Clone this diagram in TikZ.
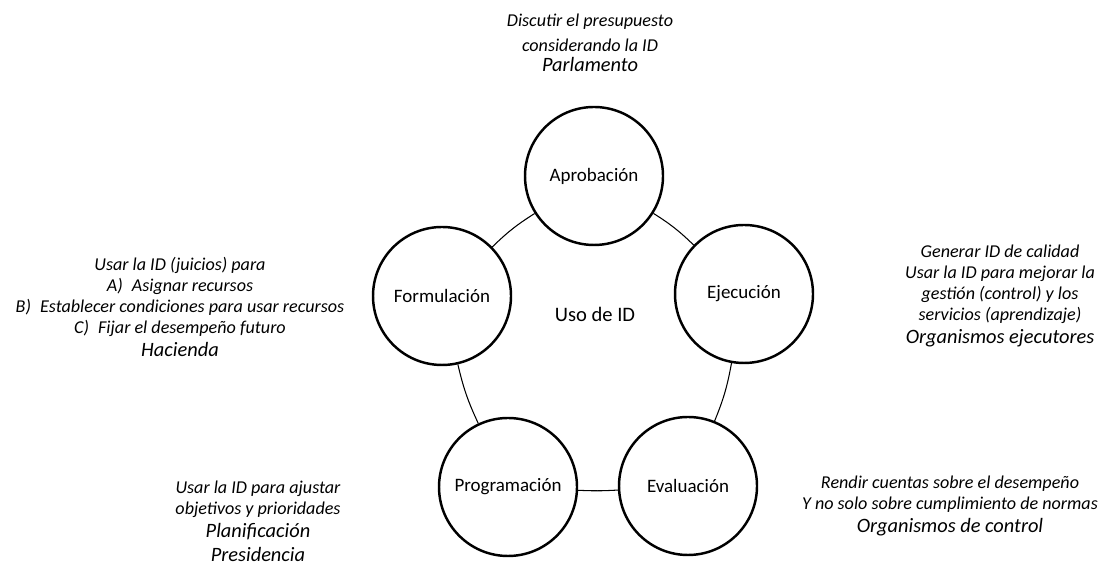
\documentclass[tikz,border=0pt]{standalone}
\usepackage{fontspec}
\setmainfont{Carlito}
\usetikzlibrary{positioning}

\begin{document}
\begin{tikzpicture}[
    stage/.style={
        circle, draw=black, line width=1.4pt,
        minimum size=2.76cm, inner sep=0pt,
        font=\fontsize{10.8}{13}\selectfont
    },
    note/.style={
        align=center, inner sep=0pt,
        font=\fontsize{10.3}{11.9}\selectfont\itshape
    },
    actor/.style={
        align=center, inner sep=0pt,
        font=\fontsize{11.6}{13.6}\selectfont\itshape
    },
    link/.style={line width=0.6pt, draw=black}
]

\useasboundingbox (0,0) rectangle (22.18,11.56);

% Stages of the cycle
\node[stage] (apro) at (11.88, 8.04) {Aprobación};
\node[stage] (ejec) at (14.88, 5.68) {Ejecución};
\node[stage] (eval) at (13.76, 1.84) {Evaluación};
\node[stage] (prog) at (10.16, 1.82) {Programación};
\node[stage] (form) at (8.84, 5.64)  {Formulación};

% Centre text
\node[font=\fontsize{11.7}{14}\selectfont] (uso) at (11.9, 5.28) {Uso de ID};

% Links between stages
\draw[link] (apro) to[bend left=6] (ejec);
\draw[link] (ejec) to[bend left=6] (eval);
\draw[link] (eval) to[bend left=3] (prog);
\draw[link] (prog) to[bend left=6] (form);
\draw[link] (form) to[bend left=6] (apro);

% Annotations
\node[note, anchor=north] (n-apro) at (11.8, 11.28) {Discutir el presupuesto\\[2pt]considerando la ID};
\node[actor, below=3pt of n-apro] (a-apro) {Parlamento};

\node[note, anchor=north] (n-form) at (3.6, 6.42) {Usar la ID (juicios) para\\A)\enspace Asignar recursos\\B)\enspace Establecer condiciones para usar recursos\\C)\enspace Fijar el desempeño futuro};
\node[actor, below=3pt of n-form] (a-form) {Hacienda};

\node[note, anchor=north] (n-ejec) at (20.0, 6.66) {Generar ID de calidad\\Usar la ID para mejorar la\\gestión (control) y los\\servicios (aprendizaje)};
\node[actor, below=3pt of n-ejec] (a-ejec) {Organismos ejecutores};

\node[note, anchor=north] (n-eval) at (19.0, 2.04) {Rendir cuentas sobre el desempeño\\Y no solo sobre cumplimiento de normas};
\node[actor, below=3pt of n-eval] (a-eval) {Organismos de control};

\node[note, anchor=north] (n-prog) at (5.16, 1.95) {Usar la ID para ajustar\\objetivos y prioridades};
\node[actor, below=3pt of n-prog] (a-prog) {Planificación\\Presidencia};

\end{tikzpicture}
\end{document}
